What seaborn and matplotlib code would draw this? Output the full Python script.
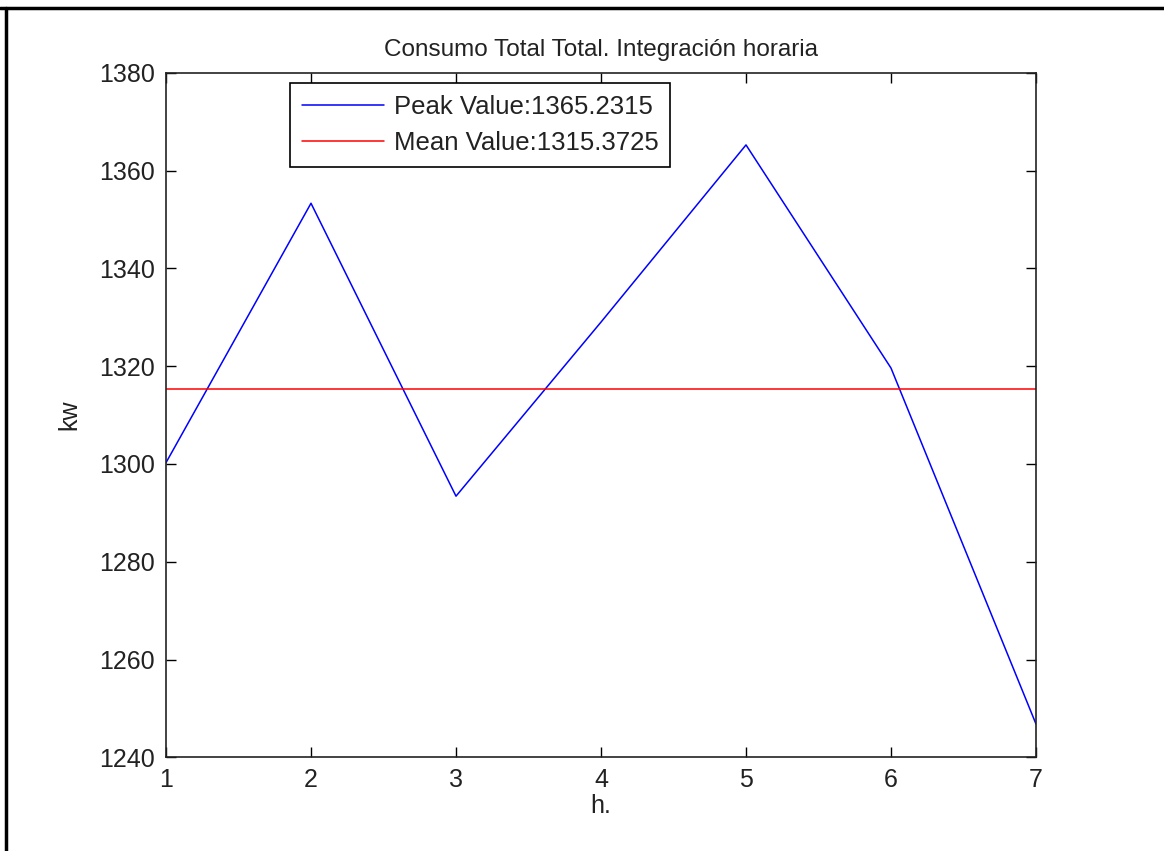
import numpy as np
import pandas as pd
import matplotlib
matplotlib.use("Agg")
import matplotlib.pyplot as plt
import seaborn as sns
from matplotlib.lines import Line2D

# ---- data ----
hours = [1, 2, 3, 4, 5, 6, 7]
consumption = [1300.25, 1353.3, 1293.4, 1329.0, 1365.2315, 1319.6, 1246.8]
peak_value = 1365.2315
mean_value = 1315.3725
title_text = "Consumo Total Total. Integración horaria"
x_label = "h."
y_label = "kw"
y_ticks = [1240, 1260, 1280, 1300, 1320, 1340, 1360, 1380]
x_ticks = [1, 2, 3, 4, 5, 6, 7]

sns.set_style("ticks")
plt.rcParams["font.family"] = ["Liberation Sans", "DejaVu Sans"]
plt.rcParams["xtick.direction"] = "in"
plt.rcParams["ytick.direction"] = "in"
plt.rcParams["text.color"] = "black"
plt.rcParams["axes.labelcolor"] = "black"

fig = plt.figure(figsize=(11.64, 8.51), dpi=100)
ax = fig.add_axes([166/1164, 1-757.3/851, (1036-166)/1164, (757.3-72.7)/851])

df = pd.DataFrame({"h": hours, "kw": consumption})
sns.lineplot(data=df, x="h", y="kw", ax=ax, color=(0, 0, 1), linewidth=1.1,
             label=f"Peak Value:{peak_value:.4f}")
ax.plot([hours[0], hours[-1]], [mean_value, mean_value], color=(1, 0, 0),
        linewidth=1.1, label=f"Mean Value:{mean_value:.4f}")

ax.set_xlim(1, 7)
ax.set_ylim(1240, 1380)
ax.set_xticks(x_ticks)
ax.set_yticks(y_ticks)
ax.tick_params(axis="both", which="both", direction="in", length=7, width=1.0,
               top=True, right=True, labelsize=18, pad=8, colors="black",
               labelcolor="#222222")
ax.tick_params(axis="x", pad=8)
for s in ax.spines.values():
    s.set_visible(True)
    s.set_linewidth(1.2)
    s.set_color("#222222")

ax.set_title(title_text, fontsize=17.5, pad=12, color="#222222")
ax.set_xlabel(x_label, fontsize=18, labelpad=1.5, color="#222222")
ax.set_ylabel(y_label, fontsize=18, labelpad=12.5, color="#222222")

leg = ax.legend(loc="upper left", bbox_to_anchor=(0.1425, 0.985), fontsize=18.5,
                fancybox=False, framealpha=1, edgecolor="black", handlelength=3.2,
                borderpad=0.45, labelspacing=0.5, handletextpad=0.4, borderaxespad=0)
leg.get_frame().set_linewidth(1.2)
for t in leg.get_texts():
    t.set_color("#222222")

# figure border (top and left)
fig.add_artist(Line2D([0, 1], [1 - 7.5/851, 1 - 7.5/851], transform=fig.transFigure,
                      color="black", linewidth=2.5))
fig.add_artist(Line2D([5.5/1164, 5.5/1164], [0, 1 - 7.5/851], transform=fig.transFigure,
                      color="black", linewidth=2.5))

fig.savefig("out.png", dpi=100, facecolor="white")
